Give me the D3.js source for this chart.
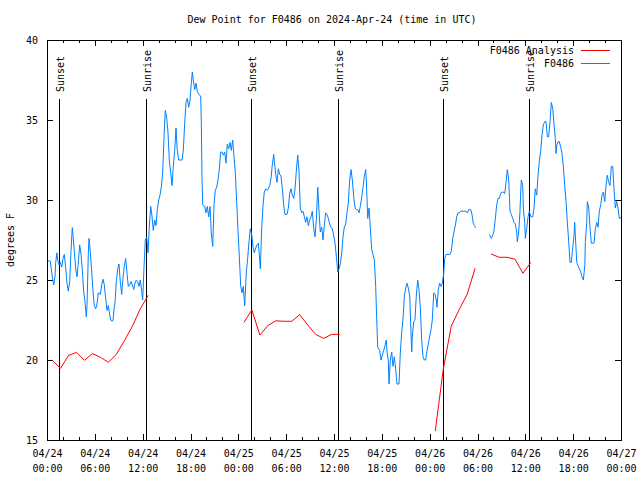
<!DOCTYPE html>
<html><head><meta charset="utf-8">
<script src="https://cdn.jsdelivr.net/npm/d3@7"></script>
<style>
body{margin:0;background:#fff}
text{font-family:"DejaVu Sans Mono","Liberation Mono",monospace;font-size:10px;fill:#000}
</style>
</head><body><svg id="c" width="640" height="480"></svg>
<script>
const chartTitle = "Dew Point for F0486 on 2024-Apr-24 (time in UTC)";
const yLabel = "degrees F";
const yTicks = [15,20,25,30,35,40];
const seriesNames = ["F0486 Analysis","F0486"];
const seriesColors = ["#ff0000","#0080ff"];
const sunLabels = ["Sunset","Sunrise","Sunset","Sunrise","Sunset","Sunrise"];
const sunHours = [1.55,12.46,25.63,36.55,49.72,60.5];

// F0486 Analysis (hours since 2024-04-24 00:00 UTC, degF); null = gap
const analysisPoints = [[0.7,19.96],[1.7,19.48],[2.7,20.29],[3.7,20.48],[4.7,19.98],[5.7,20.4],[6.7,20.17],[7.7,19.86],[8.7,20.35],[9.7,21.2],[10.7,22.1],[11.7,23.2],[12.7,24.04],
[18.7,null],
[24.7,22.35],[25.7,23.13],[26.7,21.56],[27.7,22.15],[28.7,22.45],[29.7,22.42],[30.7,22.42],[31.7,22.83],[32.7,22.19],[33.7,21.6],[34.7,21.35],[35.7,21.6],[36.7,21.6],
[42.7,null],
[48.7,15.56],[49.7,19.4],[50.7,22.1],[51.7,23.15],[52.7,24.1],[53.7,25.73],
[54.7,null],
[55.7,26.63],[56.7,26.42],[57.7,26.42],[58.7,26.3],[59.7,25.42],[60.7,26.1]];

// F0486 observations
const obsPoints = [[0.09,26.19],[0.41,26.19],[0.50,25.83],[0.66,25.2],[0.84,24.7],[1.00,25.2],[1.09,26.1],[1.25,26.7],[1.34,26.25],[1.51,25.94],[1.67,26.1],[1.84,25.8],[2.01,26.35],[2.17,26.6],[2.35,25.7],[2.51,24.8],[2.67,24.3],[2.85,24.9],[3.01,26.8],[3.17,28.27],[3.26,27.8],[3.42,26.8],[3.60,25.7],[3.76,25.2],[3.93,26.1],[4.10,27.2],[4.27,26.6],[4.43,25.6],[4.60,24.3],[4.77,23.6],[4.93,22.7],[5.02,23.4],[5.18,26.6],[5.27,27.6],[5.43,26.8],[5.61,25.5],[5.77,24.3],[5.93,23.4],[6.11,23.2],[6.27,23.5],[6.44,24.2],[6.69,24.1],[6.86,24.7],[7.02,25.05],[7.19,24.7],[7.36,23.85],[7.53,23.1],[7.69,23.4],[7.87,22.8],[8.03,22.45],[8.28,22.45],[8.37,23.0],[8.53,23.6],[8.69,24.9],[8.87,25.7],[9.03,26.0],[9.19,24.9],[9.37,24.1],[9.53,25.1],[9.70,25.9],[9.87,26.35],[10.04,25.4],[10.20,24.6],[10.37,24.7],[10.54,24.9],[10.70,24.7],[10.88,24.4],[11.04,24.8],[11.20,25.0],[11.38,24.9],[11.54,24.6],[11.70,25.0],[11.88,24.3],[12.00,23.75],[12.17,25.8],[12.33,27.5],[12.51,27.7],[12.67,26.7],[12.83,28.3],[13.01,29.6],[13.17,29.0],[13.33,28.1],[13.51,28.75],[13.67,28.4],[13.84,29.4],[14.01,30.0],[14.17,30.3],[14.34,30.8],[14.51,31.7],[14.68,33.95],[14.84,35.6],[15.02,35.1],[15.18,34.2],[15.34,32.5],[15.52,31.7],[15.68,30.9],[15.84,32.1],[16.02,33.1],[16.18,34.5],[16.34,33.1],[16.52,32.5],[16.93,32.5],[17.10,33.1],[17.27,34.8],[17.44,36.1],[17.60,36.35],[17.77,35.8],[17.94,36.25],[18.10,37.3],[18.23,38.0],[18.35,37.5],[18.53,36.9],[18.69,37.3],[18.85,36.8],[19.03,36.6],[19.28,36.5],[19.36,34.8],[19.44,31.45],[19.53,29.7],[19.78,29.6],[19.94,29.2],[20.11,29.6],[20.28,28.95],[20.45,29.6],[20.61,27.9],[20.79,27.1],[20.86,28.3],[20.95,29.7],[21.11,30.6],[21.29,30.8],[21.45,31.25],[21.61,31.9],[21.79,33.0],[21.95,33.0],[22.12,32.8],[22.29,33.0],[22.45,32.3],[22.62,33.5],[22.79,33.2],[22.96,33.6],[23.12,33.1],[23.29,33.75],[23.46,32.7],[23.62,31.7],[23.80,29.8],[23.96,28.1],[24.12,26.5],[24.30,24.6],[24.46,24.2],[24.62,24.6],[24.80,23.4],[25.00,25.5],[25.17,26.35],[25.34,27.4],[25.50,28.2],[25.68,27.8],[25.84,27.1],[26.00,26.7],[26.18,27.0],[26.34,27.2],[26.51,27.3],[26.68,26.25],[26.76,25.7],[26.93,28.2],[27.10,29.7],[27.26,30.5],[27.43,30.7],[27.60,30.6],[27.76,30.7],[27.94,30.9],[28.10,31.35],[28.26,32.2],[28.44,32.85],[28.52,32.4],[28.69,31.6],[28.85,31.1],[29.02,31.95],[29.19,31.6],[29.35,31.5],[29.52,30.7],[29.69,29.7],[29.85,29.1],[30.11,29.1],[30.27,29.5],[30.44,30.4],[30.61,30.7],[30.77,30.3],[30.95,30.1],[31.11,30.7],[31.27,31.8],[31.45,32.8],[31.61,31.8],[31.77,29.5],[31.95,29.2],[32.11,29.3],[32.28,28.95],[32.45,28.6],[32.61,28.95],[32.78,28.4],[32.95,28.75],[33.12,28.95],[33.28,29.3],[33.46,28.2],[33.62,27.7],[33.78,28.75],[33.96,30.8],[34.12,29.3],[34.28,28.0],[34.46,28.3],[34.62,27.5],[34.78,28.4],[34.96,29.2],[35.12,29.1],[35.29,28.85],[35.46,28.5],[35.63,28.3],[35.79,28.2],[35.96,27.8],[36.13,27.3],[36.29,26.5],[36.47,25.5],[36.63,25.7],[36.79,26.0],[36.97,26.7],[37.13,27.7],[37.29,28.3],[37.47,28.5],[37.63,29.2],[37.80,29.8],[37.88,30.6],[37.97,31.25],[38.14,31.9],[38.30,31.25],[38.47,30.2],[38.64,29.5],[38.80,29.4],[38.97,29.4],[39.14,29.2],[39.30,29.6],[39.48,30.2],[39.64,30.8],[39.80,31.45],[39.98,31.9],[40.05,31.25],[40.23,28.85],[40.39,29.5],[40.55,28.3],[40.73,26.9],[40.89,26.6],[41.06,26.25],[41.23,24.6],[41.31,23.3],[41.39,22.1],[41.48,20.8],[41.73,20.6],[41.90,20.0],[42.06,20.3],[42.24,20.6],[42.40,20.9],[42.56,21.25],[42.65,20.5],[42.81,20.0],[42.90,18.5],[43.06,20.0],[43.24,20.5],[43.40,19.6],[43.57,20.2],[43.74,19.4],[43.90,18.5],[44.15,18.5],[44.32,20.5],[44.49,21.7],[44.66,22.6],[44.82,24.0],[45.00,24.5],[45.16,24.8],[45.32,24.5],[45.50,24.0],[45.66,21.7],[45.75,20.5],[45.82,21.5],[46.00,22.4],[46.16,22.5],[46.32,24.0],[46.50,25.0],[46.66,24.4],[46.83,23.3],[47.00,21.25],[47.16,20.2],[47.33,20.0],[47.50,20.0],[47.67,20.6],[47.83,21.0],[48.01,21.5],[48.17,21.9],[48.33,22.5],[48.51,24.2],[48.67,24.1],[48.83,23.75],[48.92,23.3],[49.08,24.4],[49.26,24.8],[49.42,24.6],[49.59,24.8],[49.76,25.4],[49.89,26.35],[50.05,26.6],[50.30,26.6],[50.55,26.6],[50.72,26.8],[50.89,27.6],[51.05,28.0],[51.22,28.4],[51.39,28.95],[51.56,29.2],[51.72,29.2],[51.89,29.3],[52.22,29.3],[52.56,29.3],[52.72,29.2],[52.90,29.4],[53.15,29.4],[53.31,29.1],[53.48,28.5],[53.65,28.4],[53.72,28.27],
[54.6,null],
[55.48,27.85],[55.73,27.6],[55.91,27.8],[56.07,28.1],[56.24,28.85],[56.41,29.7],[56.57,30.1],[56.74,30.1],[56.91,30.4],[57.07,30.5],[57.24,30.5],[57.41,30.4],[57.58,31.1],[57.74,31.9],[57.92,31.25],[58.08,29.3],[58.24,29.1],[58.42,28.85],[58.58,28.6],[58.74,28.5],[58.92,28.0],[58.99,27.4],[59.17,28.0],[59.33,29.3],[59.42,30.5],[59.50,31.25],[59.67,30.9],[59.75,29.5],[59.92,28.6],[60.00,27.6],[60.17,28.2],[60.34,28.95],[60.50,29.3],[60.68,28.95],[60.93,28.95],[61.09,29.5],[61.25,30.7],[61.43,30.3],[61.59,31.55],[61.75,32.4],[61.93,33.1],[62.09,34.05],[62.26,34.7],[62.44,34.9],[62.60,34.9],[62.76,33.95],[62.93,33.95],[63.10,34.9],[63.26,36.1],[63.44,35.7],[63.60,34.7],[63.76,33.85],[63.85,32.9],[63.94,33.4],[64.10,33.65],[64.26,33.65],[64.44,33.3],[64.60,32.9],[64.77,32.1],[64.94,30.9],[65.11,29.9],[65.27,28.6],[65.44,27.4],[65.61,26.1],[65.77,26.1],[65.94,27.0],[66.11,27.8],[66.19,28.6],[66.27,27.8],[66.45,26.1],[66.61,25.9],[66.78,25.7],[66.95,25.5],[67.11,25.2],[67.28,25.0],[67.46,25.9],[67.53,27.4],[67.70,28.6],[67.78,29.9],[67.96,29.5],[68.12,28.2],[68.28,27.3],[68.62,27.3],[68.78,28.2],[68.96,28.6],[69.12,28.3],[69.28,29.3],[69.46,29.7],[69.62,30.3],[69.79,30.5],[69.96,29.9],[70.12,30.9],[70.28,31.55],[70.46,31.1],[70.62,30.9],[70.79,32.1],[70.96,32.1],[71.12,30.7],[71.29,29.5],[71.46,29.9],[71.62,29.5],[71.79,28.85],[72.0,28.9]];

const t0 = Date.UTC(2024,3,24,0,0);
const toDate = h => new Date(t0 + h*3600e3);
const L=47, R=621, T=40, B=440;

const svg = d3.select("#c");
const x = d3.scaleUtc().domain([toDate(0), toDate(72)]).range([L,R]);
const y = d3.scaleLinear().domain([15,40]).range([B,T]);

const majorX = d3.utcHour.every(6).range(toDate(0), toDate(72.01));
const minorX = d3.utcHour.every(2).range(toDate(0), toDate(72.01)).filter(d => d.getUTCHours()%6 !== 0);

// ticks
const g = svg.append("g").attr("shape-rendering","crispEdges");
g.append("g").attr("transform",`translate(0,${B})`)
  .call(d3.axisBottom(x).tickValues(minorX).tickSize(-3).tickFormat(""))
  .call(a=>a.select(".domain").remove());
g.append("g").attr("transform",`translate(0,${T})`)
  .call(d3.axisTop(x).tickValues(minorX).tickSize(-3).tickFormat(""))
  .call(a=>a.select(".domain").remove());
g.append("g").attr("transform",`translate(0,${T})`)
  .call(d3.axisTop(x).tickValues(majorX).tickSize(-6).tickFormat(""))
  .call(a=>a.select(".domain").remove());
const xb = g.append("g").attr("transform",`translate(0,${B})`)
  .call(d3.axisBottom(x).tickValues(majorX).tickSize(-6).tickFormat(d3.utcFormat("%m/%d|%H:%M")))
  .call(a=>a.select(".domain").remove());
xb.selectAll(".tick text").each(function(){
  const parts = d3.select(this).text().split("|");
  const t = d3.select(this).text(null).attr("y",null).attr("dy",null);
  t.append("tspan").attr("x",0).attr("y",17).text(parts[0]);
  t.append("tspan").attr("x",0).attr("y",32).text(parts[1]);
});
xb.selectAll("text").style("font-size","10px").style("font-family",'"DejaVu Sans Mono",monospace');

g.append("g").attr("transform",`translate(${L},0)`)
  .call(d3.axisLeft(y).tickValues(yTicks).tickSize(-6).tickPadding(9).tickFormat(d3.format("d")))
  .call(a=>a.select(".domain").remove())
  .call(a=>a.selectAll("text").style("font-size","10px").style("font-family",'"DejaVu Sans Mono",monospace'));
g.append("g").attr("transform",`translate(${R},0)`)
  .call(d3.axisRight(y).tickValues(yTicks).tickSize(-6).tickFormat(""))
  .call(a=>a.select(".domain").remove());

// frame
svg.append("rect").attr("x",L).attr("y",T).attr("width",R-L).attr("height",B-T)
  .attr("fill","none").attr("stroke","#000").attr("shape-rendering","crispEdges");

// title & y label
svg.append("text").attr("x",332).attr("y",23).attr("text-anchor","middle").text(chartTitle);
svg.append("text").attr("transform","translate(14,240) rotate(-90)").attr("text-anchor","middle").text(yLabel);

// sunrise / sunset markers
const sun = svg.append("g");
sunHours.forEach((h,i)=>{
  const xp = Math.round(x(toDate(h)))+0.5;
  sun.append("line").attr("x1",xp).attr("x2",xp).attr("y1",99).attr("y2",B)
    .attr("stroke","#000").attr("stroke-width",1);
  sun.append("text").attr("transform",`translate(${xp+4},92) rotate(-90)`)
    .attr("text-anchor","start").text(sunLabels[i]);
});

// series lines
const line = d3.line().defined(d=>d[1]!==null).x(d=>x(toDate(d[0]))).y(d=>y(d[1]));
svg.append("path").datum(analysisPoints).attr("d",line).attr("fill","none")
  .attr("stroke",seriesColors[0]).attr("stroke-width",1);
svg.append("path").datum(obsPoints).attr("d",line).attr("fill","none")
  .attr("stroke",seriesColors[1]).attr("stroke-width",1);

// legend
const lg = svg.append("g");
seriesNames.forEach((n,i)=>{
  const yy = 50 + i*13;
  lg.append("text").attr("x",574).attr("y",yy+4).attr("text-anchor","end").text(n);
  lg.append("line").attr("x1",581).attr("x2",610).attr("y1",yy+0.5).attr("y2",yy+0.5)
    .attr("stroke",seriesColors[i]).attr("stroke-width",1);
});
</script>
</body></html>
